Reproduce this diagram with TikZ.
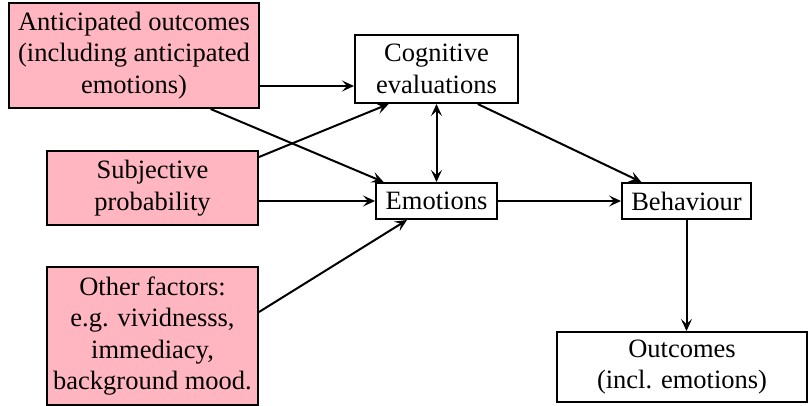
\documentclass[tikz,border=0pt]{standalone}
\usepackage{fontspec}
\setmainfont{Liberation Serif}
\usetikzlibrary{arrows.meta,calc}
\definecolor{boxpink}{HTML}{FFB6C1}
\tikzset{
  box/.style={draw=black, line width=2pt, align=center, inner sep=0pt,
    font=\fontsize{26.5}{31.5}\selectfont},
  pinkbox/.style={box, fill=boxpink},
  conn/.style={line width=2pt, -{Stealth[length=12pt,width=11pt,inset=5pt]}},
  dconn/.style={line width=2pt, {Stealth[length=12pt,width=11pt,inset=5pt]}-{Stealth[length=12pt,width=11pt,inset=5pt]}}
}
\begin{document}
\begin{tikzpicture}[x=1pt,y=-1pt]
\useasboundingbox (0,0) rectangle (808,406);
\node[pinkbox, minimum width=250pt, minimum height=105pt] (A) at (134,55.5) {Anticipated outcomes\\(including anticipated\\emotions)};
\node[pinkbox, minimum width=211pt, minimum height=74pt] (S) at (152.5,188) {Subjective\\probability};
\node[pinkbox, minimum width=211pt, minimum height=138pt] (O) at (152.5,336) {Other factors:\\e.g. vividnesss,\\immediacy,\\background mood.};
\node[box, minimum width=163pt, minimum height=68pt] (C) at (436.5,69) {Cognitive\\evaluations};
\node[box, minimum width=121pt, minimum height=36pt] (E) at (436.5,201) {Emotions};
\node[box, minimum width=129pt, minimum height=36pt] (B) at (686.5,201) {Behaviour};
\node[box, minimum width=250pt, minimum height=70pt] (Out) at (682,367) {Outcomes\\(incl. emotions)};

\coordinate (Cw) at ($(C.west)+(0,17)$);
\draw[conn] (A.east |- Cw) -- (Cw);
\draw[conn] ($(A.south west)!0.804!(A.south east)$) -- ($(E.north west)!0.07!(E.north east)$);
\draw[conn] ($(S.north east)+(0,7)$) -- ($(C.south west)!0.21!(C.south east)$);
\draw[conn] (S.east |- E.west) -- (E.west);
\draw[conn] ($(O.north east)+(0,46)$) -- ($(E.south west)!0.26!(E.south east)$);
\draw[dconn] (C.south) -- (E.north);
\draw[conn] ($(C.south west)!0.75!(C.south east)$) -- ($(B.north west)!0.155!(B.north east)$);
\draw[conn] (E.east) -- (B.west);
\draw[conn] (B.south) -- (B.south |- Out.north);
\end{tikzpicture}
\end{document}
